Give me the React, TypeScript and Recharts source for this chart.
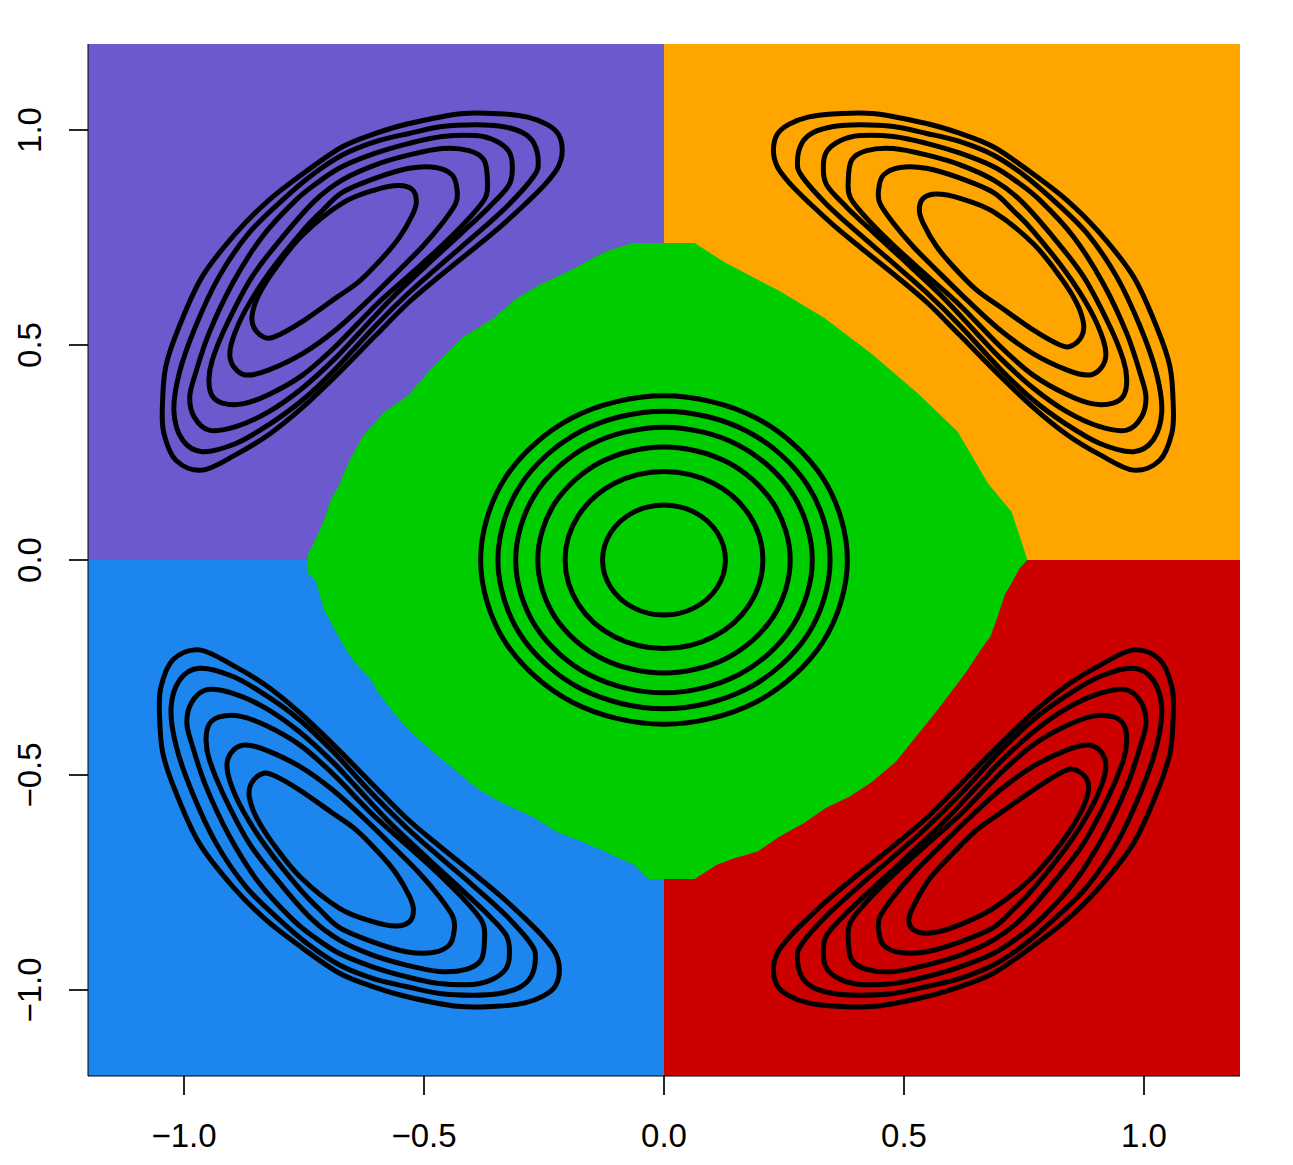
import { ComposedChart, Area, Line, XAxis, YAxis } from 'recharts';

const ticks = [-1, -0.5, 0, 0.5, 1];
const limits = [-1.2, 1.2];

// class regions (quadrants)
const purpleRegion = [[-1.2, 1.2], [0, 1.2]];
const orangeRegion = [[0, 1.2], [1.2, 1.2]];
const blueRegion = [[-1.2, -1.2], [0, -1.2]];
const redRegion = [[0, -1.2], [1.2, -1.2]];

// central (green) class region, upper and lower boundary
const greenTop = [
  [-0.742, 0.012], [-0.726, 0.047], [-0.708, 0.093], [-0.693, 0.143], [-0.678, 0.171],
  [-0.658, 0.225], [-0.628, 0.287], [-0.582, 0.345], [-0.532, 0.384], [-0.481, 0.45],
  [-0.421, 0.516], [-0.355, 0.562], [-0.307, 0.608], [-0.259, 0.64], [-0.194, 0.674],
  [-0.145, 0.704], [-0.112, 0.721], [-0.064, 0.737], [0.064, 0.737], [0.128, 0.691],
  [0.24, 0.626], [0.335, 0.562], [0.431, 0.481], [0.529, 0.387], [0.612, 0.298],
  [0.675, 0.178], [0.724, 0.112], [0.739, 0.062], [0.757, 0.0],
];
const greenBottom = [
  [-0.742, -0.03], [-0.726, -0.047], [-0.708, -0.116], [-0.693, -0.147], [-0.678, -0.178],
  [-0.66, -0.213], [-0.643, -0.24], [-0.6125, -0.275], [-0.597, -0.306], [-0.562, -0.357],
  [-0.532, -0.395], [-0.486, -0.442], [-0.436, -0.488], [-0.385, -0.535], [-0.335, -0.566],
  [-0.274, -0.597], [-0.224, -0.632], [-0.163, -0.659], [-0.123, -0.678], [-0.0925, -0.694],
  [-0.062, -0.709], [-0.032, -0.742], [0.064, -0.742], [0.11, -0.709], [0.145, -0.694],
  [0.195, -0.678], [0.241, -0.643], [0.291, -0.612], [0.337, -0.577], [0.387, -0.55],
  [0.433, -0.516], [0.483, -0.469], [0.519, -0.419], [0.564, -0.357], [0.599, -0.306],
  [0.63, -0.26], [0.66, -0.209], [0.68, -0.178], [0.695, -0.132], [0.71, -0.081],
  [0.726, -0.05], [0.741, -0.019], [0.757, 0.0],
];

// density contours, centre class
const centreRings = [
  [[0.128, 0], [0.1108, 0.064], [0.064, 0.1108], [0, 0.128], [-0.064, 0.1108], [-0.1108, 0.064], [-0.128, 0], [-0.1108, -0.064], [-0.064, -0.1108], [0, -0.128], [0.064, -0.1108], [0.1108, -0.064]],
  [[0.206, 0], [0.1784, 0.103], [0.103, 0.1784], [0, 0.206], [-0.103, 0.1784], [-0.1784, 0.103], [-0.206, 0], [-0.1784, -0.103], [-0.103, -0.1784], [0, -0.206], [0.103, -0.1784], [0.1784, -0.103]],
  [[0.263, 0], [0.2278, 0.1315], [0.1315, 0.2278], [0, 0.263], [-0.1315, 0.2278], [-0.2278, 0.1315], [-0.263, 0], [-0.2278, -0.1315], [-0.1315, -0.2278], [0, -0.263], [0.1315, -0.2278], [0.2278, -0.1315]],
  [[0.309, 0], [0.2676, 0.1545], [0.1545, 0.2676], [0, 0.309], [-0.1545, 0.2676], [-0.2676, 0.1545], [-0.309, 0], [-0.2676, -0.1545], [-0.1545, -0.2676], [0, -0.309], [0.1545, -0.2676], [0.2676, -0.1545]],
  [[0.346, 0], [0.2996, 0.173], [0.173, 0.2996], [0, 0.346], [-0.173, 0.2996], [-0.2996, 0.173], [-0.346, 0], [-0.2996, -0.173], [-0.173, -0.2996], [0, -0.346], [0.173, -0.2996], [0.2996, -0.173]],
  [[0.382, 0], [0.3308, 0.191], [0.191, 0.3308], [0, 0.382], [-0.191, 0.3308], [-0.3308, 0.191], [-0.382, 0], [-0.3308, -0.191], [-0.191, -0.3308], [0, -0.382], [0.191, -0.3308], [0.3308, -0.191]],
];

// density contours, upper right (orange) class
const orangeRings = [
  [[0.228, 0.953], [0.236, 0.99], [0.26, 1.013], [0.3, 1.03], [0.36, 1.038], [0.44, 1.038], [0.547, 1.015], [0.617, 0.992], [0.686, 0.961], [0.76, 0.905], [0.839, 0.837], [0.908, 0.76], [0.978, 0.659], [1.026, 0.543], [1.054, 0.45], [1.061, 0.357], [1.058, 0.295], [1.033, 0.232], [0.978, 0.209], [0.908, 0.245], [0.839, 0.292], [0.769, 0.355], [0.7, 0.428], [0.617, 0.522], [0.547, 0.6], [0.478, 0.665], [0.408, 0.728], [0.353, 0.779], [0.304, 0.829], [0.262, 0.876], [0.236, 0.915]],
  [[0.278, 0.926], [0.287, 0.969], [0.311, 0.994], [0.353, 1.008], [0.408, 1.012], [0.478, 1.008], [0.547, 0.992], [0.617, 0.973], [0.686, 0.942], [0.75, 0.895], [0.811, 0.837], [0.881, 0.76], [0.943, 0.659], [0.992, 0.543], [1.026, 0.434], [1.037, 0.345], [1.019, 0.279], [0.978, 0.252], [0.908, 0.271], [0.839, 0.315], [0.769, 0.372], [0.7, 0.445], [0.617, 0.545], [0.547, 0.622], [0.478, 0.69], [0.408, 0.757], [0.339, 0.827], [0.287, 0.893]],
  [[0.332, 0.915], [0.339, 0.95], [0.367, 0.975], [0.408, 0.987], [0.478, 0.985], [0.547, 0.969], [0.617, 0.946], [0.686, 0.915], [0.735, 0.88], [0.783, 0.837], [0.853, 0.752], [0.915, 0.643], [0.964, 0.527], [0.992, 0.434], [1.004, 0.38], [0.995, 0.333], [0.964, 0.302], [0.908, 0.31], [0.839, 0.345], [0.769, 0.4], [0.7, 0.47], [0.651, 0.528], [0.582, 0.61], [0.512, 0.684], [0.443, 0.755], [0.381, 0.82], [0.339, 0.872]],
  [[0.384, 0.884], [0.391, 0.93], [0.422, 0.952], [0.478, 0.957], [0.547, 0.942], [0.617, 0.919], [0.686, 0.884], [0.742, 0.837], [0.804, 0.76], [0.874, 0.659], [0.929, 0.543], [0.957, 0.465], [0.964, 0.42], [0.958, 0.383], [0.936, 0.365], [0.894, 0.363], [0.839, 0.385], [0.769, 0.43], [0.7, 0.497], [0.617, 0.592], [0.547, 0.662], [0.478, 0.732], [0.422, 0.795], [0.388, 0.843]],
  [[0.447, 0.86], [0.457, 0.895], [0.492, 0.913], [0.547, 0.911], [0.617, 0.888], [0.686, 0.855], [0.73, 0.81], [0.769, 0.765], [0.839, 0.667], [0.888, 0.581], [0.915, 0.512], [0.92, 0.47], [0.905, 0.44], [0.881, 0.43], [0.839, 0.442], [0.769, 0.48], [0.7, 0.535], [0.631, 0.605], [0.568, 0.674], [0.519, 0.729], [0.478, 0.783], [0.45, 0.829]],
  [[0.532, 0.814], [0.54, 0.841], [0.568, 0.851], [0.617, 0.841], [0.686, 0.81], [0.769, 0.736], [0.825, 0.659], [0.86, 0.597], [0.874, 0.55], [0.87, 0.52], [0.849, 0.498], [0.825, 0.5], [0.769, 0.535], [0.7, 0.589], [0.651, 0.628], [0.603, 0.682], [0.568, 0.729], [0.54, 0.783]],
];

// density contours, upper left (purple) class
const purpleRings = [
  [[-0.212, 0.953], [-0.22, 0.99], [-0.244, 1.013], [-0.284, 1.03], [-0.344, 1.038], [-0.424, 1.038], [-0.531, 1.015], [-0.601, 0.992], [-0.67, 0.961], [-0.744, 0.905], [-0.823, 0.837], [-0.892, 0.76], [-0.962, 0.659], [-1.01, 0.543], [-1.038, 0.45], [-1.045, 0.357], [-1.042, 0.295], [-1.017, 0.232], [-0.962, 0.209], [-0.892, 0.245], [-0.823, 0.292], [-0.753, 0.355], [-0.684, 0.428], [-0.601, 0.522], [-0.531, 0.6], [-0.462, 0.665], [-0.392, 0.728], [-0.337, 0.779], [-0.288, 0.829], [-0.246, 0.876], [-0.22, 0.915]],
  [[-0.262, 0.926], [-0.271, 0.969], [-0.295, 0.994], [-0.337, 1.008], [-0.392, 1.012], [-0.462, 1.008], [-0.531, 0.992], [-0.601, 0.973], [-0.67, 0.942], [-0.734, 0.895], [-0.795, 0.837], [-0.865, 0.76], [-0.927, 0.659], [-0.976, 0.543], [-1.01, 0.434], [-1.021, 0.345], [-1.003, 0.279], [-0.962, 0.252], [-0.892, 0.271], [-0.823, 0.315], [-0.753, 0.372], [-0.684, 0.445], [-0.601, 0.545], [-0.531, 0.622], [-0.462, 0.69], [-0.392, 0.757], [-0.323, 0.827], [-0.271, 0.893]],
  [[-0.316, 0.915], [-0.323, 0.95], [-0.351, 0.975], [-0.392, 0.987], [-0.462, 0.985], [-0.531, 0.969], [-0.601, 0.946], [-0.67, 0.915], [-0.719, 0.88], [-0.767, 0.837], [-0.837, 0.752], [-0.899, 0.643], [-0.948, 0.527], [-0.976, 0.434], [-0.988, 0.38], [-0.979, 0.333], [-0.948, 0.302], [-0.892, 0.31], [-0.823, 0.345], [-0.753, 0.4], [-0.684, 0.47], [-0.635, 0.528], [-0.566, 0.61], [-0.496, 0.684], [-0.427, 0.755], [-0.365, 0.82], [-0.323, 0.872]],
  [[-0.368, 0.884], [-0.375, 0.93], [-0.406, 0.952], [-0.462, 0.957], [-0.531, 0.942], [-0.601, 0.919], [-0.67, 0.884], [-0.726, 0.837], [-0.788, 0.76], [-0.858, 0.659], [-0.913, 0.543], [-0.941, 0.465], [-0.948, 0.42], [-0.942, 0.383], [-0.92, 0.365], [-0.878, 0.363], [-0.823, 0.385], [-0.753, 0.43], [-0.684, 0.497], [-0.601, 0.592], [-0.531, 0.662], [-0.462, 0.732], [-0.406, 0.795], [-0.372, 0.843]],
  [[-0.431, 0.86], [-0.441, 0.895], [-0.476, 0.913], [-0.531, 0.911], [-0.601, 0.888], [-0.67, 0.855], [-0.714, 0.81], [-0.753, 0.765], [-0.823, 0.667], [-0.872, 0.581], [-0.899, 0.512], [-0.904, 0.47], [-0.889, 0.44], [-0.865, 0.43], [-0.823, 0.442], [-0.753, 0.48], [-0.684, 0.535], [-0.615, 0.605], [-0.552, 0.674], [-0.503, 0.729], [-0.462, 0.783], [-0.434, 0.829]],
  [[-0.516, 0.834], [-0.524, 0.861], [-0.552, 0.871], [-0.601, 0.861], [-0.67, 0.83], [-0.753, 0.756], [-0.809, 0.679], [-0.844, 0.617], [-0.858, 0.57], [-0.854, 0.54], [-0.833, 0.518], [-0.809, 0.52], [-0.753, 0.555], [-0.684, 0.609], [-0.635, 0.648], [-0.587, 0.702], [-0.552, 0.749], [-0.524, 0.803]],
];

// density contours, lower left (blue) class
const blueRings = [
  [[-0.218, -0.953], [-0.226, -0.99], [-0.25, -1.013], [-0.29, -1.03], [-0.35, -1.038], [-0.43, -1.038], [-0.537, -1.015], [-0.607, -0.992], [-0.676, -0.961], [-0.75, -0.905], [-0.829, -0.837], [-0.898, -0.76], [-0.968, -0.659], [-1.016, -0.543], [-1.044, -0.45], [-1.051, -0.357], [-1.048, -0.295], [-1.023, -0.232], [-0.968, -0.209], [-0.898, -0.245], [-0.829, -0.292], [-0.759, -0.355], [-0.69, -0.428], [-0.607, -0.522], [-0.537, -0.6], [-0.468, -0.665], [-0.398, -0.728], [-0.343, -0.779], [-0.294, -0.829], [-0.252, -0.876], [-0.226, -0.915]],
  [[-0.268, -0.926], [-0.277, -0.969], [-0.301, -0.994], [-0.343, -1.008], [-0.398, -1.012], [-0.468, -1.008], [-0.537, -0.992], [-0.607, -0.973], [-0.676, -0.942], [-0.74, -0.895], [-0.801, -0.837], [-0.871, -0.76], [-0.933, -0.659], [-0.982, -0.543], [-1.016, -0.434], [-1.027, -0.345], [-1.009, -0.279], [-0.968, -0.252], [-0.898, -0.271], [-0.829, -0.315], [-0.759, -0.372], [-0.69, -0.445], [-0.607, -0.545], [-0.537, -0.622], [-0.468, -0.69], [-0.398, -0.757], [-0.329, -0.827], [-0.277, -0.893]],
  [[-0.322, -0.915], [-0.329, -0.95], [-0.357, -0.975], [-0.398, -0.987], [-0.468, -0.985], [-0.537, -0.969], [-0.607, -0.946], [-0.676, -0.915], [-0.725, -0.88], [-0.773, -0.837], [-0.843, -0.752], [-0.905, -0.643], [-0.954, -0.527], [-0.982, -0.434], [-0.994, -0.38], [-0.985, -0.333], [-0.954, -0.302], [-0.898, -0.31], [-0.829, -0.345], [-0.759, -0.4], [-0.69, -0.47], [-0.641, -0.528], [-0.572, -0.61], [-0.502, -0.684], [-0.433, -0.755], [-0.371, -0.82], [-0.329, -0.872]],
  [[-0.374, -0.884], [-0.381, -0.93], [-0.412, -0.952], [-0.468, -0.957], [-0.537, -0.942], [-0.607, -0.919], [-0.676, -0.884], [-0.732, -0.837], [-0.794, -0.76], [-0.864, -0.659], [-0.919, -0.543], [-0.947, -0.465], [-0.954, -0.42], [-0.948, -0.383], [-0.926, -0.365], [-0.884, -0.363], [-0.829, -0.385], [-0.759, -0.43], [-0.69, -0.497], [-0.607, -0.592], [-0.537, -0.662], [-0.468, -0.732], [-0.412, -0.795], [-0.378, -0.843]],
  [[-0.437, -0.86], [-0.447, -0.895], [-0.482, -0.913], [-0.537, -0.911], [-0.607, -0.888], [-0.676, -0.855], [-0.72, -0.81], [-0.759, -0.765], [-0.829, -0.667], [-0.878, -0.581], [-0.905, -0.512], [-0.91, -0.47], [-0.895, -0.44], [-0.871, -0.43], [-0.829, -0.442], [-0.759, -0.48], [-0.69, -0.535], [-0.621, -0.605], [-0.558, -0.674], [-0.509, -0.729], [-0.468, -0.783], [-0.44, -0.829]],
  [[-0.522, -0.814], [-0.53, -0.841], [-0.558, -0.851], [-0.607, -0.841], [-0.676, -0.81], [-0.759, -0.736], [-0.815, -0.659], [-0.85, -0.597], [-0.864, -0.55], [-0.86, -0.52], [-0.839, -0.498], [-0.815, -0.5], [-0.759, -0.535], [-0.69, -0.589], [-0.641, -0.628], [-0.593, -0.682], [-0.558, -0.729], [-0.53, -0.783]],
];

// density contours, lower right (red) class
const redRings = [
  [[0.228, -0.953], [0.236, -0.99], [0.26, -1.013], [0.3, -1.03], [0.36, -1.038], [0.44, -1.038], [0.547, -1.015], [0.617, -0.992], [0.686, -0.961], [0.76, -0.905], [0.839, -0.837], [0.908, -0.76], [0.978, -0.659], [1.026, -0.543], [1.054, -0.45], [1.061, -0.357], [1.058, -0.295], [1.033, -0.232], [0.978, -0.209], [0.908, -0.245], [0.839, -0.292], [0.769, -0.355], [0.7, -0.428], [0.617, -0.522], [0.547, -0.6], [0.478, -0.665], [0.408, -0.728], [0.353, -0.779], [0.304, -0.829], [0.262, -0.876], [0.236, -0.915]],
  [[0.278, -0.926], [0.287, -0.969], [0.311, -0.994], [0.353, -1.008], [0.408, -1.012], [0.478, -1.008], [0.547, -0.992], [0.617, -0.973], [0.686, -0.942], [0.75, -0.895], [0.811, -0.837], [0.881, -0.76], [0.943, -0.659], [0.992, -0.543], [1.026, -0.434], [1.037, -0.345], [1.019, -0.279], [0.978, -0.252], [0.908, -0.271], [0.839, -0.315], [0.769, -0.372], [0.7, -0.445], [0.617, -0.545], [0.547, -0.622], [0.478, -0.69], [0.408, -0.757], [0.339, -0.827], [0.287, -0.893]],
  [[0.332, -0.915], [0.339, -0.95], [0.367, -0.975], [0.408, -0.987], [0.478, -0.985], [0.547, -0.969], [0.617, -0.946], [0.686, -0.915], [0.735, -0.88], [0.783, -0.837], [0.853, -0.752], [0.915, -0.643], [0.964, -0.527], [0.992, -0.434], [1.004, -0.38], [0.995, -0.333], [0.964, -0.302], [0.908, -0.31], [0.839, -0.345], [0.769, -0.4], [0.7, -0.47], [0.651, -0.528], [0.582, -0.61], [0.512, -0.684], [0.443, -0.755], [0.381, -0.82], [0.339, -0.872]],
  [[0.384, -0.884], [0.391, -0.93], [0.422, -0.952], [0.478, -0.957], [0.547, -0.942], [0.617, -0.919], [0.686, -0.884], [0.742, -0.837], [0.804, -0.76], [0.874, -0.659], [0.929, -0.543], [0.957, -0.465], [0.964, -0.42], [0.958, -0.383], [0.936, -0.365], [0.894, -0.363], [0.839, -0.385], [0.769, -0.43], [0.7, -0.497], [0.617, -0.592], [0.547, -0.662], [0.478, -0.732], [0.422, -0.795], [0.388, -0.843]],
  [[0.447, -0.86], [0.457, -0.895], [0.492, -0.913], [0.547, -0.911], [0.617, -0.888], [0.686, -0.855], [0.73, -0.81], [0.769, -0.765], [0.839, -0.667], [0.888, -0.581], [0.915, -0.512], [0.92, -0.47], [0.905, -0.44], [0.881, -0.43], [0.839, -0.442], [0.769, -0.48], [0.7, -0.535], [0.631, -0.605], [0.568, -0.674], [0.519, -0.729], [0.478, -0.783], [0.45, -0.829]],
  [[0.51, -0.836], [0.52, -0.86], [0.55, -0.868], [0.605, -0.853], [0.686, -0.81], [0.769, -0.736], [0.832, -0.652], [0.868, -0.587], [0.884, -0.538], [0.88, -0.508], [0.857, -0.488], [0.832, -0.492], [0.769, -0.535], [0.7, -0.589], [0.651, -0.628], [0.595, -0.69], [0.553, -0.742], [0.522, -0.8]],
];

const regions = [
  { key: 'purple', pts: purpleRegion, color: '#6A5ACD' },
  { key: 'orange', pts: orangeRegion, color: '#FFA500' },
  { key: 'blue', pts: blueRegion, color: '#1C86EE' },
  { key: 'red', pts: redRegion, color: '#CD0000' },
  { key: 'greenTop', pts: greenTop, color: '#00CD00' },
  { key: 'greenBottom', pts: greenBottom, color: '#00CD00' },
];

const allRings = [...centreRings, ...orangeRings, ...purpleRings, ...blueRings, ...redRings];

const toRows = (pts: number[][]) => pts.map(([x, y]) => ({ x, y }));

// smooth closed curve through the contour points (closed Catmull-Rom)
const closedCurve = (context: any) => {
  let pts: number[][] = [];
  return {
    areaStart() {},
    areaEnd() {},
    lineStart() {
      pts = [];
    },
    point(x: number, y: number) {
      pts.push([+x, +y]);
    },
    lineEnd() {
      const n = pts.length;
      if (n < 3) return;
      context.moveTo(pts[0][0], pts[0][1]);
      for (let i = 0; i < n; i++) {
        const p0 = pts[(i + n - 1) % n];
        const p1 = pts[i];
        const p2 = pts[(i + 1) % n];
        const p3 = pts[(i + 2) % n];
        context.bezierCurveTo(
          p1[0] + (p2[0] - p0[0]) / 6,
          p1[1] + (p2[1] - p0[1]) / 6,
          p2[0] - (p3[0] - p1[0]) / 6,
          p2[1] - (p3[1] - p1[1]) / 6,
          p2[0],
          p2[1]
        );
      }
      context.closePath();
    },
  };
};

const fontFamily = '"Liberation Sans", Arial, Helvetica, sans-serif';
const fmt = (v: number) => v.toFixed(1).replace('-', '\u2212');

const XTick = (props: any) => {
  const { x, y, payload } = props;
  return (
    <text x={x} y={y} textAnchor="middle" fontSize={33} fontFamily={fontFamily} fill="#000">
      {fmt(payload.value)}
    </text>
  );
};

const YTick = (props: any) => {
  const { x, y, payload } = props;
  return (
    <text
      x={x}
      y={y}
      transform={`rotate(-90, ${x}, ${y})`}
      textAnchor="middle"
      fontSize={33}
      fontFamily={fontFamily}
      fill="#000"
    >
      {fmt(payload.value)}
    </text>
  );
};

export default function App() {
  return (
    <div style={{ position: 'absolute', left: 0, top: 0, background: '#fff' }}>
      <ComposedChart width={1293} height={1165} margin={{ top: 44, right: 53, bottom: 0, left: 0 }}>
        {regions.map((r) => (
          <Area
            key={r.key}
            data={toRows(r.pts)}
            dataKey="y"
            type="linear"
            baseValue={0}
            fill={r.color}
            fillOpacity={1}
            stroke="none"
            isAnimationActive={false}
          />
        ))}
        {allRings.map((ring, i) => (
          <Line
            key={`ring-${i}`}
            data={toRows(ring)}
            dataKey="y"
            type={closedCurve as any}
            stroke="#000"
            strokeWidth={5}
            dot={false}
            activeDot={false}
            isAnimationActive={false}
          />
        ))}
        <XAxis
          dataKey="x"
          type="number"
          domain={limits}
          ticks={ticks}
          allowDataOverflow
          height={89}
          tickSize={19}
          tickMargin={52}
          tick={<XTick />}
          tickLine={{ stroke: '#000', strokeWidth: 1.7 }}
          axisLine={{ stroke: '#000', strokeWidth: 1 }}
        />
        <XAxis
          xAxisId="top"
          orientation="top"
          dataKey="x"
          type="number"
          domain={limits}
          allowDataOverflow
          height={0}
          tick={false}
          tickLine={false}
          axisLine={{ stroke: '#000', strokeWidth: 1 }}
        />
        <YAxis
          type="number"
          domain={limits}
          ticks={ticks}
          allowDataOverflow
          width={88}
          tickSize={19}
          tickMargin={28}
          tick={<YTick />}
          tickLine={{ stroke: '#000', strokeWidth: 1.7 }}
          axisLine={{ stroke: '#000', strokeWidth: 1 }}
        />
        <YAxis
          yAxisId="right"
          orientation="right"
          type="number"
          domain={limits}
          allowDataOverflow
          width={0}
          tick={false}
          tickLine={false}
          axisLine={{ stroke: '#000', strokeWidth: 1 }}
        />
      </ComposedChart>
    </div>
  );
}
